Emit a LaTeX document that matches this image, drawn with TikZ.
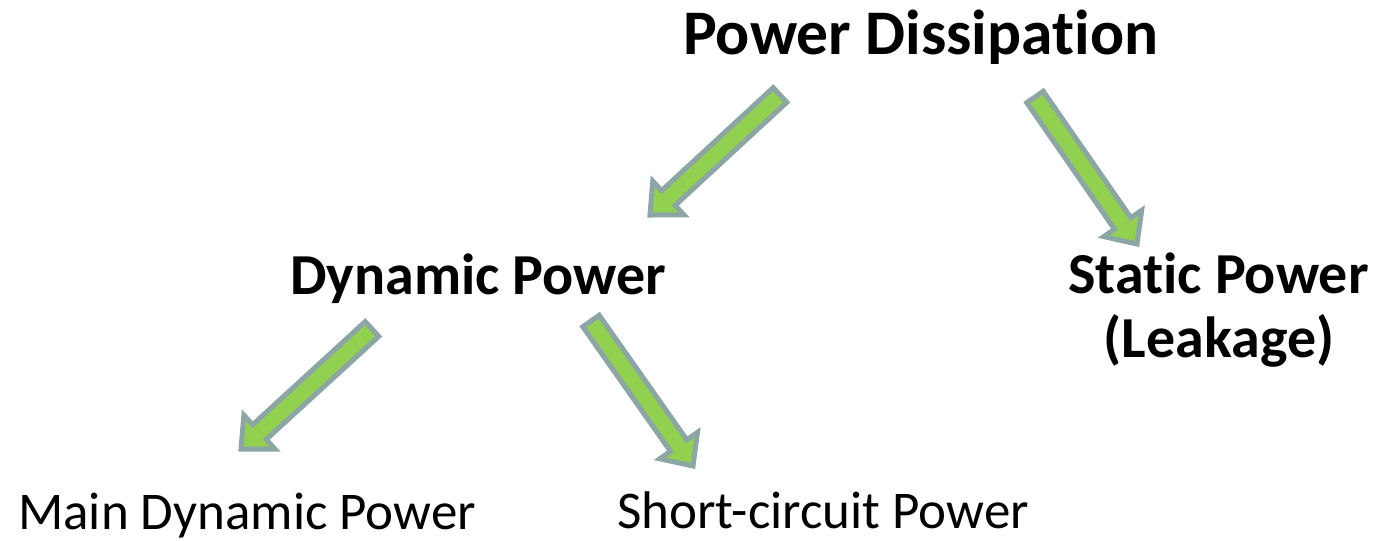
\documentclass[tikz,border=0pt]{standalone}
\usepackage{fontspec}
\setmainfont[RawFeature={-liga;-dlig;-clig}]{Carlito}
\usetikzlibrary{calc}
\definecolor{arrowfill}{RGB}{146,208,80}
\definecolor{arrowedge}{RGB}{140,165,165}
\tikzset{
  lbl/.style={inner sep=0pt, anchor=base west, font=\fontsize{53}{58}\selectfont},
  blbl/.style={inner sep=0pt, anchor=base west, font=\fontsize{58}{64}\selectfont\bfseries},
  fat/.style={fill=arrowfill, draw=arrowedge, line width=5pt, line join=miter}
}
\newcommand\fatarrow[2]{%
  \path ($(#2)!25pt!(#1)$) coordinate (neck);
  \draw[fat] ($(#1)!10pt!90:(#2)$) -- ($(neck)!10pt!-90:(#1)$) -- ($(neck)!23pt!-90:(#1)$) -- (#2)
     -- ($(neck)!23pt!90:(#1)$) -- ($(neck)!10pt!90:(#1)$) -- ($(#1)!10pt!-90:(#2)$) -- cycle;}
\begin{document}
\begin{tikzpicture}[x=1pt,y=-1pt]
\useasboundingbox (0,0) rectangle (1377,541);
\node[blbl, font=\fontsize{63.5}{66}\selectfont\bfseries] (pd) at (683,54) {Power Dissipation};
\node[blbl] (dp) at (290,294) {Dynamic Power};
\node[blbl] (sp) at (1068,293) {Static Power};
\node[blbl, anchor=base] (lk) at (1219,357) {(Leakage)};
\node[lbl] (md) at (18,529) {Main Dynamic Power};
\node[lbl] (sc) at (617,528) {Short-circuit Power};
\coordinate (a1s) at (780,95);  \coordinate (a1e) at (650,215);
\coordinate (a2s) at (1035,97); \coordinate (a2e) at (1137,244);
\coordinate (a3s) at (372,329); \coordinate (a3e) at (241,449);
\coordinate (a4s) at (591,321); \coordinate (a4e) at (693,466);
\fatarrow{a1s}{a1e}
\fatarrow{a2s}{a2e}
\fatarrow{a3s}{a3e}
\fatarrow{a4s}{a4e}
\end{tikzpicture}
\end{document}
